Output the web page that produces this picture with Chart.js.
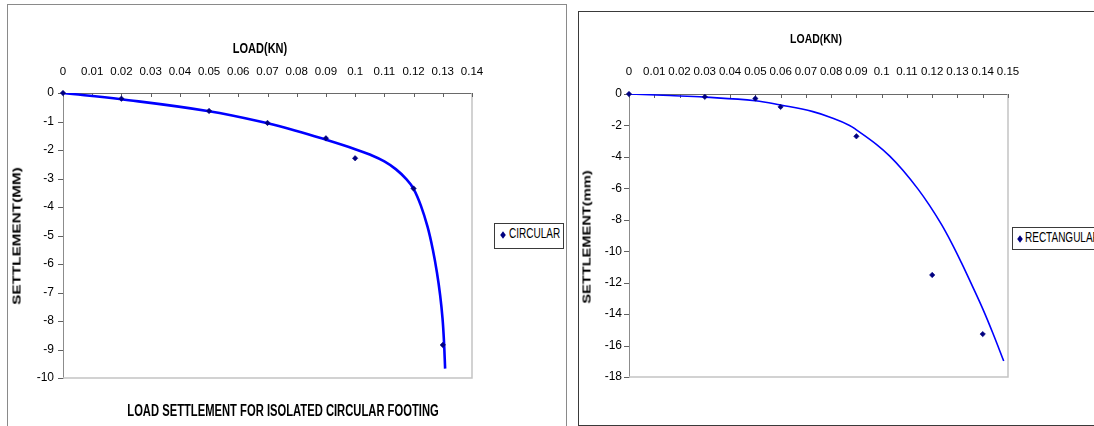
<!DOCTYPE html>
<html>
<head>
<meta charset="utf-8">
<script src="https://cdn.jsdelivr.net/npm/chart.js@4.4.1/dist/chart.umd.min.js"></script>
<style>
html, body { margin:0; padding:0; background:#fff; width:1094px; height:426px; overflow:hidden; }
body { position:relative; font-family:'Liberation Sans', Arial, sans-serif; }
.box { position:absolute; box-sizing:border-box; }
.wrap { position:absolute; }
.t { position:absolute; white-space:nowrap; line-height:1; color:#000; }
.b { font-weight:bold; font-size:11px; }
.leg { position:absolute; box-sizing:border-box; border:1px solid #3a3a3a; background:#fff; }
.dia { position:absolute; width:4px; height:4px; background:#000080; transform:translate(-50%,-50%) scaleY(1.3) rotate(45deg); }
.lt { position:absolute; white-space:nowrap; line-height:1; font-size:10px; color:#000; transform-origin:left center; transform:translateY(-50%) scaleY(1.4); }
</style>
</head>
<body>
<div class="box" style="left:7px;top:4px;width:560px;height:460px;border:1px solid #8a8a8a"></div>
<div class="box" style="left:578px;top:11px;width:560px;height:415px;border:1px solid #3a3a3a"></div>

<div class="wrap" style="left:0;top:0;width:575px;height:426px"><canvas id="c1"></canvas></div>
<div class="wrap" style="left:575px;top:0;width:519px;height:426px"><canvas id="c2"></canvas></div>

<!-- left chart texts -->
<div class="t b" style="left:260px;top:49px;transform:translate(-50%,-50%) scaleY(1.25)">LOAD(KN)</div>
<div class="t b" style="left:17px;top:236px;transform:translate(-50%,-50%) rotate(-90deg) scaleX(1.39)">SETTLEMENT(MM)</div>
<div class="t b" style="left:283px;top:411px;transform:translate(-50%,-50%) scale(1.02,1.45)">LOAD SETTLEMENT FOR ISOLATED CIRCULAR FOOTING</div>
<div class="leg" style="left:494px;top:223px;width:70px;height:26px"></div>
<div class="dia" style="left:503px;top:235px"></div>
<div class="lt" style="left:509px;top:234px">CIRCULAR</div>

<!-- right chart texts -->
<div class="t b" style="left:816px;top:38px;font-size:10.5px;transform:translate(-50%,-50%) scaleY(1.2)">LOAD(KN)</div>
<div class="t b" style="left:587px;top:237px;transform:translate(-50%,-50%) rotate(-90deg) scaleX(1.33)">SETTLEMENT(mm)</div>
<div class="leg" style="left:1012px;top:227px;width:120px;height:23px"></div>
<div class="dia" style="left:1020px;top:239px"></div>
<div class="lt" style="left:1025px;top:238px">RECTANGULAR</div>

<script>
// ---- Circular footing (left chart) ----
const circularLoad       = [0, 0.02, 0.05, 0.07, 0.09, 0.10, 0.12, 0.13];
const circularSettlement = [0, -0.20, -0.63, -1.05, -1.59, -2.29, -3.35, -8.84];
// trend curve
const circularTrendLoad       = [0, 0.02, 0.05, 0.07, 0.08, 0.09, 0.10, 0.105, 0.11, 0.114, 0.1176, 0.12, 0.1225, 0.1248, 0.1266, 0.128, 0.1291, 0.1299, 0.1304, 0.1308];
const circularTrendSettlement = [0, -0.22, -0.64, -1.06, -1.33, -1.64, -1.97, -2.16, -2.40, -2.68, -3.03, -3.36, -3.95, -4.70, -5.50, -6.30, -7.10, -7.90, -8.70, -9.67];
const circularLoadTicks       = [0, 0.01, 0.02, 0.03, 0.04, 0.05, 0.06, 0.07, 0.08, 0.09, 0.1, 0.11, 0.12, 0.13, 0.14];
const circularSettlementTicks = [0, -1, -2, -3, -4, -5, -6, -7, -8, -9, -10];

// ---- Rectangular footing (right chart) ----
const rectLoad       = [0, 0.03, 0.05, 0.06, 0.09, 0.12, 0.14];
const rectSettlement = [0, -0.18, -0.29, -0.82, -2.69, -11.51, -15.27];
const rectTrendLoad       = [0, 0.0161, 0.03, 0.05, 0.06, 0.0728, 0.0807, 0.0873, 0.09, 0.0979, 0.1032, 0.1084, 0.1144, 0.119, 0.1236, 0.1276, 0.1316, 0.1355, 0.1401, 0.1441, 0.1483];
const rectTrendSettlement = [0, -0.10, -0.20, -0.43, -0.70, -1.12, -1.55, -2.00, -2.28, -3.20, -3.95, -4.85, -6.05, -7.10, -8.28, -9.45, -10.74, -12.08, -13.70, -15.25, -16.98];
const rectLoadTicks       = [0, 0.01, 0.02, 0.03, 0.04, 0.05, 0.06, 0.07, 0.08, 0.09, 0.1, 0.11, 0.12, 0.13, 0.14, 0.15];
const rectSettlementTicks = [0, -2, -4, -6, -8, -10, -12, -14, -16, -18];

const FONT = "'Liberation Sans', Arial, sans-serif";

const frameAndTicks = {
  id: 'frameAndTicks',
  beforeDatasetsDraw(chart, args, opts) {
    const { ctx, chartArea: a, scales: { x, y } } = chart;
    ctx.save();
    ctx.strokeStyle = opts.frameColor;
    ctx.lineWidth = 1.5;
    ctx.beginPath();
    ctx.moveTo(a.right, a.top);
    ctx.lineTo(a.right, a.bottom);
    ctx.lineTo(a.left, a.bottom);
    ctx.stroke();
    ctx.lineWidth = 1;
    ctx.strokeStyle = opts.tickColor;
    ctx.beginPath();
    x.ticks.forEach(t => {
      const px = Math.round(x.getPixelForValue(t.value)) + 0.5;
      ctx.moveTo(px, a.top);
      ctx.lineTo(px, a.top + opts.xTick);
    });
    y.ticks.forEach(t => {
      const py = Math.round(y.getPixelForValue(t.value)) + 0.5;
      ctx.moveTo(a.left - opts.yTick, py);
      ctx.lineTo(a.left, py);
    });
    ctx.stroke();
    ctx.restore();
  }
};

function pts(xs, ys) { return xs.map((v, i) => ({ x: v, y: ys[i] })); }

function buildChart(id, o) {
  return new Chart(document.getElementById(id), {
    type: 'scatter',
    data: {
      datasets: [
        {
          label: o.label,
          data: pts(o.load, o.settle),
          showLine: false,
          pointStyle: 'rectRot',
          pointRadius: 2.7,
          pointBackgroundColor: '#000080',
          pointBorderColor: '#000080',
          pointBorderWidth: 0.6,
          clip: false
        },
        {
          label: o.label + ' trend',
          data: pts(o.trendLoad, o.trendSettle),
          showLine: true,
          pointRadius: 0,
          borderColor: '#0000ff',
          borderWidth: o.lineWidth,
          tension: 0.4,
          fill: false
        }
      ]
    },
    options: {
      responsive: true,
      maintainAspectRatio: false,
      animation: false,
      events: [],
      layout: { padding: { left: 0, top: 0, right: o.padRight, bottom: o.padBottom } },
      plugins: {
        legend: { display: false },
        tooltip: { enabled: false },
        title: { display: false },
        frameAndTicks: { frameColor: '#c4c4c4', tickColor: '#606060', xTick: 4, yTick: 5 }
      },
      scales: {
        x: {
          type: 'linear',
          position: 'top',
          min: o.xTicks[0],
          max: o.xTicks[o.xTicks.length - 1],
          grid: { display: false, drawTicks: false },
          border: { display: true, color: o.xAxisColor, width: 1 },
          ticks: {
            autoSkip: false, maxRotation: 0, minRotation: 0,
            padding: o.xPad, color: '#000',
            font: { family: FONT, size: 11.5 },
            callback: v => String(v)
          },
          afterBuildTicks: s => { s.ticks = o.xTicks.map(v => ({ value: v })); },
          afterFit: s => { s.height = o.top; }
        },
        y: {
          type: 'linear',
          position: 'left',
          min: o.yTicks[o.yTicks.length - 1],
          max: o.yTicks[0],
          grid: { display: false, drawTicks: false },
          border: { display: true, color: o.yAxisColor, width: 1 },
          ticks: {
            autoSkip: false,
            padding: o.yPad, color: '#000',
            font: { family: FONT, size: 12 },
            callback: v => String(v)
          },
          afterBuildTicks: s => { s.ticks = o.yTicks.map(v => ({ value: v })); },
          afterFit: s => { s.width = o.left; }
        }
      }
    },
    plugins: [frameAndTicks]
  });
}

buildChart('c1', {
  label: 'CIRCULAR',
  load: circularLoad, settle: circularSettlement,
  trendLoad: circularTrendLoad, trendSettle: circularTrendSettlement,
  xTicks: circularLoadTicks, yTicks: circularSettlementTicks,
  left: 63, top: 93, padRight: 103, padBottom: 48,
  xPad: 14, yPad: 9, lineWidth: 2.6,
  xAxisColor: '#6a6a6a', yAxisColor: '#8c8c8c'
});

buildChart('c2', {
  label: 'RECTANGULAR',
  load: rectLoad, settle: rectSettlement,
  trendLoad: rectTrendLoad, trendSettle: rectTrendSettlement,
  xTicks: rectLoadTicks, yTicks: rectSettlementTicks,
  left: 54, top: 94, padRight: 86, padBottom: 49,
  xPad: 15, yPad: 7, lineWidth: 1.6,
  xAxisColor: '#6a6a6a', yAxisColor: '#8c8c8c'
});
</script>
</body>
</html>
